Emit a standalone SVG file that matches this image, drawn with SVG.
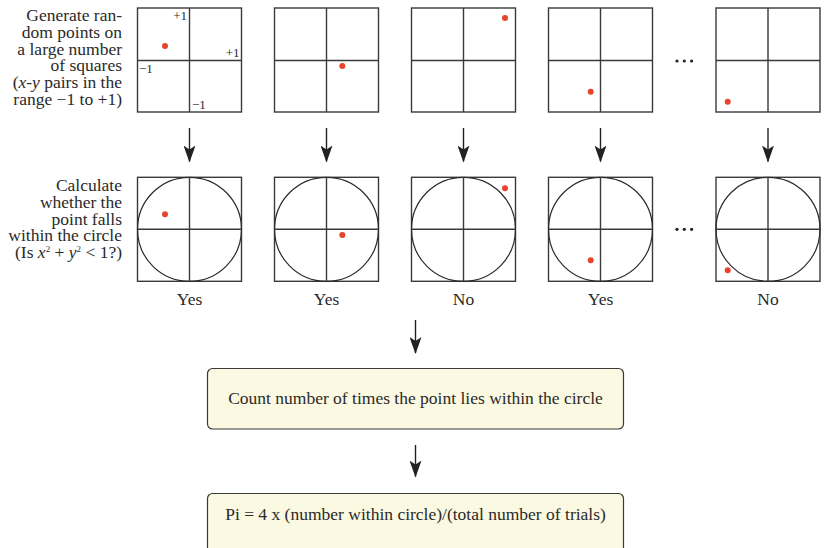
<svg xmlns="http://www.w3.org/2000/svg" width="826" height="548" viewBox="0 0 826 548">
<defs>
<style>
.t{font-family:"Liberation Serif","Times New Roman",serif;font-size:17.5px;fill:#2a2a2a}
.r{text-anchor:end}
.m{text-anchor:middle}
.s{font-family:"Liberation Serif","Times New Roman",serif;font-size:13px;fill:#2a2a2a}
.sq{fill:#fff;stroke:#3a3a3a;stroke-width:1.4}
.ax{stroke:#3a3a3a;stroke-width:1.4;fill:none}
.ci{fill:none;stroke:#2a2a2a;stroke-width:1.2}
.dot{fill:#e8432d}
.box{fill:#fbf9e1;stroke:#3a3a3a;stroke-width:1.2}
.ar{stroke:#222;stroke-width:1.4;fill:none;marker-end:url(#ah)}
.el{fill:#222}
</style>
<marker id="ah" viewBox="0 0 17 12" refX="16" refY="6" markerWidth="17" markerHeight="12" markerUnits="userSpaceOnUse" orient="auto">
<path d="M0,0 L17,6 L0,12 L4,6 Z" fill="#222"/>
</marker>
</defs>

<g id="label-generate">
<text class="t r" x="122" y="21"><tspan x="122">Generate ran-</tspan><tspan x="122" dy="16.8">dom points on</tspan><tspan x="122" dy="16.8">a large number</tspan><tspan x="122" dy="16.8">of squares</tspan><tspan x="122" dy="16.8">(<tspan font-style="italic">x</tspan>-<tspan font-style="italic">y</tspan> pairs in the</tspan><tspan x="122" dy="16.8">range −1 to +1)</tspan></text>
</g>

<g id="label-calculate">
<text class="t r" x="122" y="191"><tspan x="122">Calculate</tspan><tspan x="122" dy="16.8">whether the</tspan><tspan x="122" dy="16.8">point falls</tspan><tspan x="122" dy="16.8">within the circle</tspan><tspan x="122" dy="16.8">(Is <tspan font-style="italic">x</tspan><tspan font-size="9" dy="-6">2</tspan><tspan dy="6"> + </tspan><tspan font-style="italic">y</tspan><tspan font-size="9" dy="-6">2</tspan><tspan dy="6"> &lt; 1?)</tspan></tspan></text>
</g>

<g id="sq1">
<rect class="sq" x="137.5" y="8" width="104" height="104"/>
<path class="ax" d="M189.5,8V112M137.5,60.5H241.5"/>
<text class="s r" x="187" y="20">+1</text>
<text class="s r" x="239.5" y="57">+1</text>
<text class="s" x="139" y="73">−1</text>
<text class="s" x="192" y="108.5">−1</text>
<circle class="dot" cx="165" cy="46" r="3"/>
</g>
<g id="sq2">
<rect class="sq" x="274.5" y="8" width="104" height="104"/>
<path class="ax" d="M326.5,8V112M274.5,60.5H378.5"/>
<circle class="dot" cx="342.3" cy="66" r="3"/>
</g>
<g id="sq3">
<rect class="sq" x="411.5" y="8" width="104" height="104"/>
<path class="ax" d="M463.5,8V112M411.5,60.5H515.5"/>
<circle class="dot" cx="505" cy="18" r="3"/>
</g>
<g id="sq4">
<rect class="sq" x="548.5" y="8" width="104" height="104"/>
<path class="ax" d="M600.5,8V112M548.5,60.5H652.5"/>
<circle class="dot" cx="590.7" cy="91.7" r="3"/>
</g>
<g id="dots-top">
<circle class="el" cx="677" cy="61" r="1.6"/>
<circle class="el" cx="684.3" cy="61" r="1.6"/>
<circle class="el" cx="691.6" cy="61" r="1.6"/>
</g>
<g id="sq5">
<rect class="sq" x="716" y="8" width="104" height="104"/>
<path class="ax" d="M768,8V112M716,60.5H820"/>
<circle class="dot" cx="727.7" cy="101.7" r="3"/>
</g>

<g id="c1">
<rect class="sq" x="137.5" y="177.3" width="104" height="104"/>
<circle class="ci" cx="189.5" cy="229.3" r="52"/>
<path class="ax" d="M189.5,177.3V281.3M137.5,229.3H241.5"/>
<circle class="dot" cx="165" cy="214.3" r="3"/>
<text class="t m" x="189.5" y="305">Yes</text>
</g>
<g id="c2">
<rect class="sq" x="274.5" y="177.3" width="104" height="104"/>
<circle class="ci" cx="326.5" cy="229.3" r="52"/>
<path class="ax" d="M326.5,177.3V281.3M274.5,229.3H378.5"/>
<circle class="dot" cx="342.3" cy="235" r="3"/>
<text class="t m" x="326.5" y="305">Yes</text>
</g>
<g id="c3">
<rect class="sq" x="411.5" y="177.3" width="104" height="104"/>
<circle class="ci" cx="463.5" cy="229.3" r="52"/>
<path class="ax" d="M463.5,177.3V281.3M411.5,229.3H515.5"/>
<circle class="dot" cx="505" cy="188.3" r="3"/>
<text class="t m" x="463.5" y="305">No</text>
</g>
<g id="c4">
<rect class="sq" x="548.5" y="177.3" width="104" height="104"/>
<circle class="ci" cx="600.5" cy="229.3" r="52"/>
<path class="ax" d="M600.5,177.3V281.3M548.5,229.3H652.5"/>
<circle class="dot" cx="590.7" cy="260.3" r="3"/>
<text class="t m" x="600.5" y="305">Yes</text>
</g>
<g id="dots-bottom">
<circle class="el" cx="677" cy="229.3" r="1.6"/>
<circle class="el" cx="684.3" cy="229.3" r="1.6"/>
<circle class="el" cx="691.6" cy="229.3" r="1.6"/>
</g>
<g id="c5">
<rect class="sq" x="716" y="177.3" width="104" height="104"/>
<circle class="ci" cx="768" cy="229.3" r="52"/>
<path class="ax" d="M768,177.3V281.3M716,229.3H820"/>
<circle class="dot" cx="727.7" cy="270.3" r="3"/>
<text class="t m" x="768" y="305">No</text>
</g>

<g id="count-box">
<rect class="box" x="207.5" y="368.5" width="416" height="60.5" rx="5"/>
<text class="t m" x="415.5" y="403.5">Count number of times the point lies within the circle</text>
</g>
<g id="pi-box">
<rect class="box" x="207.5" y="493.5" width="416" height="70" rx="5"/>
<text class="t m" x="415.5" y="519.5">Pi = 4 x (number within circle)/(total number of trials)</text>
</g>

<g id="connectors">
<line class="ar" x1="189.5" y1="128" x2="189.5" y2="161.5"/>
<line class="ar" x1="326.5" y1="128" x2="326.5" y2="161.5"/>
<line class="ar" x1="463.5" y1="128" x2="463.5" y2="161.5"/>
<line class="ar" x1="600.5" y1="128" x2="600.5" y2="161.5"/>
<line class="ar" x1="768" y1="128" x2="768" y2="161.5"/>
<line class="ar" x1="415.5" y1="320" x2="415.5" y2="353"/>
<line class="ar" x1="415.5" y1="445" x2="415.5" y2="476.5"/>
</g>
</svg>
